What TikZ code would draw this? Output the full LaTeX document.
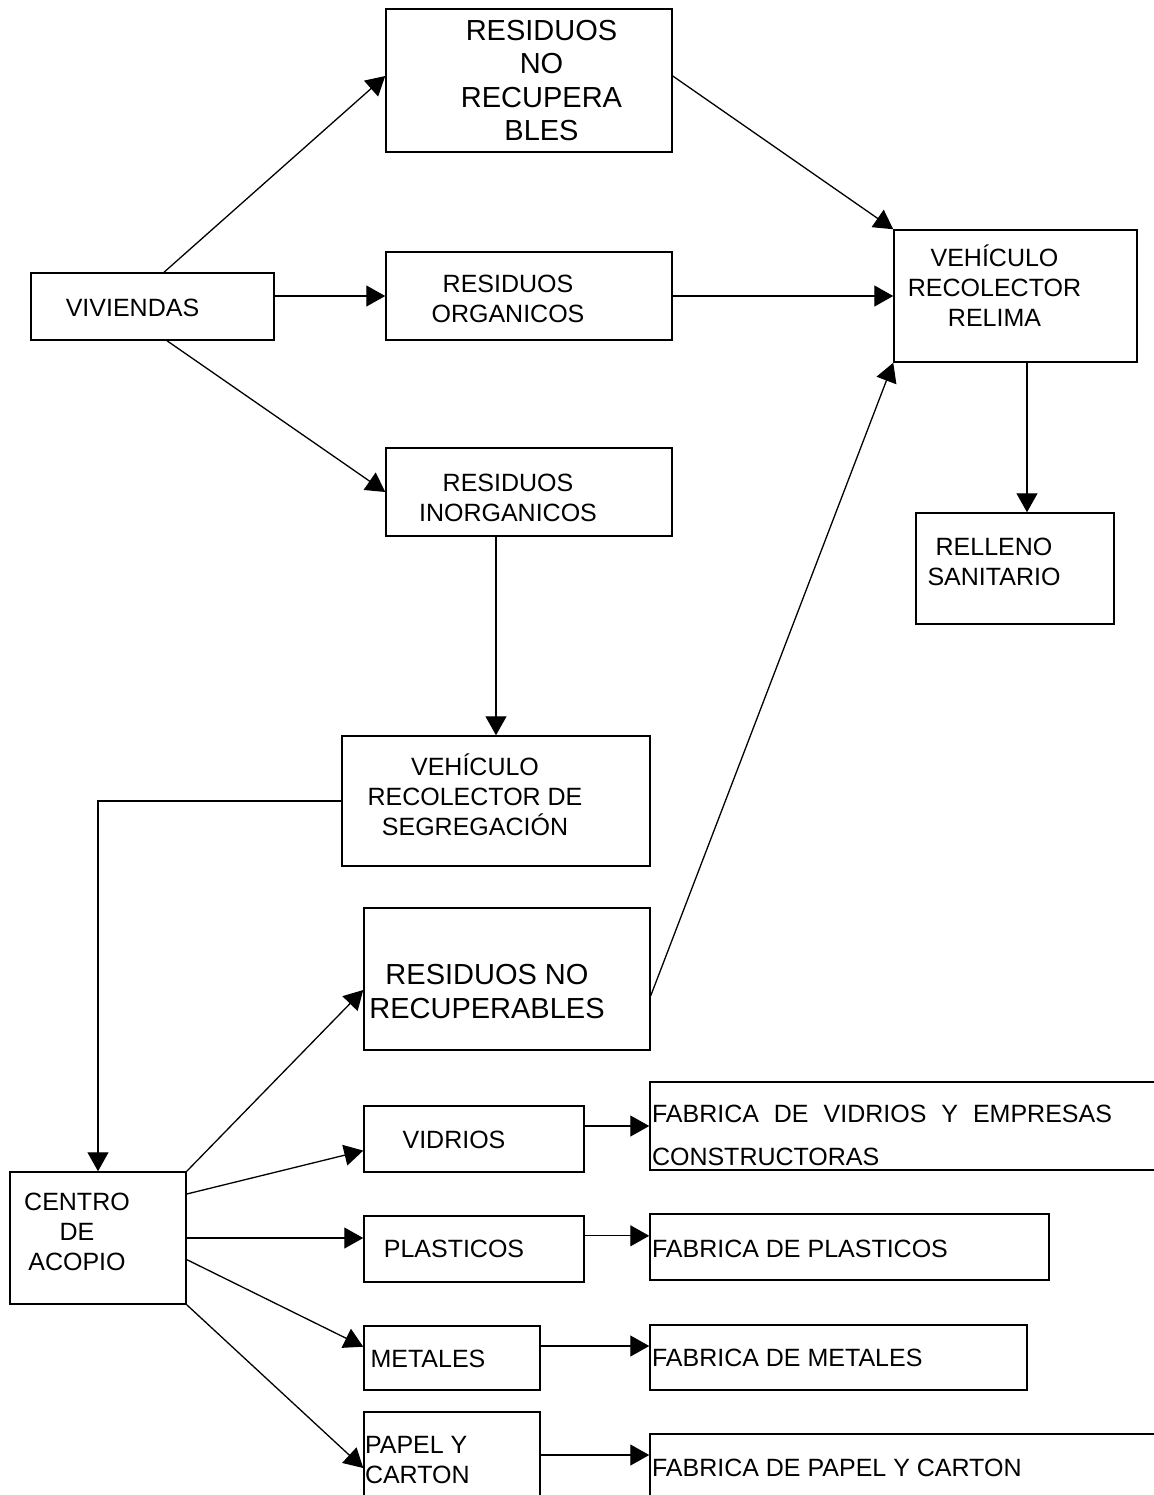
\documentclass[tikz,border=0pt]{standalone}
\usepackage{fontspec}
\setmainfont{Liberation Sans}
\usetikzlibrary{arrows.meta}

% text block of a box: [column] {x shift} {y shift, down} {lines}
\newcommand{\boxtext}[4][c]{%
  \raisebox{0pt}[\dimexpr\height+(#3)\relax][\dimexpr\depth-(#3)\relax]{%
    \kern#2\relax\begin{tabular}{@{}#1@{}}#4\end{tabular}\kern\dimexpr0pt-(#2)\relax}}

\begin{document}
\begin{tikzpicture}[
    x=0.5pt, y=-0.5pt,
    box/.style={draw, line width=0.75pt, inner sep=0pt, font=\fontsize{12.5}{15}\selectfont},
    bigbox/.style={box, font=\fontsize{14.5}{16.75}\selectfont},
    dims/.style 2 args={minimum width=#1, minimum height=#2},
    arrow/.style={-{Triangle[length=9.5pt, width=10.5pt]}, line width=0.65pt}
]
    \useasboundingbox (0,0) rectangle (1153,1495);

    \node[bigbox, dims={143pt}{71.5pt}] (rnr1) at (529,80.5) {\boxtext{6.25pt}{1.65pt}{RESIDUOS\\NO\\RECUPERA\\BLES}};
    \node[box, dims={121.5pt}{33.5pt}] (viv) at (152.5,306.5) {\boxtext{-10pt}{1.75pt}{VIVIENDAS}};
    \node[box, dims={143pt}{44pt}] (org) at (529,296) {\boxtext{-10.5pt}{2.75pt}{RESIDUOS\\ORGANICOS}};
    \node[box, dims={143pt}{44pt}] (inorg) at (529,492) {\boxtext{-10.5pt}{4pt}{RESIDUOS\\INORGANICOS}};
    \node[box, dims={121.5pt}{66pt}] (relima) at (1015.5,296) {\boxtext{-10.5pt}{-3pt}{VEHÍCULO\\RECOLECTOR\\RELIMA}};
    \node[box, dims={99pt}{55.5pt}] (relleno) at (1015,568.5) {\boxtext{-10.5pt}{-2.25pt}{RELLENO\\SANITARIO}};
    \node[box, dims={154pt}{65pt}] (segr) at (496,801) {\boxtext{-10.5pt}{-1pt}{VEHÍCULO\\RECOLECTOR DE\\SEGREGACIÓN}};
    \node[bigbox, dims={143pt}{71pt}] (rnr2) at (507,979) {\boxtext{-10pt}{8pt}{RESIDUOS NO\\RECUPERABLES}};
    \node[box, dims={88pt}{66pt}] (centro) at (98,1238) {\boxtext{-10.5pt}{-1.75pt}{CENTRO\\DE\\ACOPIO}};

    \node[box, dims={110pt}{33pt}] (vidrios) at (474,1139) {\boxtext{-10pt}{1.5pt}{VIDRIOS}};
    \node[box, dims={110pt}{33pt}] (plasticos) at (474,1249) {\boxtext{-10pt}{1.3pt}{PLASTICOS}};
    \node[box, dims={88pt}{32pt}] (metales) at (452,1358) {\boxtext[p{81.5pt}]{0pt}{1.7pt}{METALES}};
    \node[box, dims={88pt}{48pt}] (papel) at (452,1460) {\boxtext[p{87pt}]{0pt}{1.4pt}{PAPEL Y\\CARTON}};

    \node[box, dims={257.5pt}{44pt}] (fabvid) at (907.5,1126) {\boxtext[p{255.5pt}]{0pt}{5.75pt}{\makebox[230pt][s]{FABRICA DE VIDRIOS Y EMPRESAS}\\[6.5pt]CONSTRUCTORAS}};
    \node[box, dims={199.5pt}{33pt}] (fabpl) at (849.5,1247) {\boxtext[p{197.5pt}]{0pt}{2pt}{FABRICA DE PLASTICOS}};
    \node[box, dims={188.5pt}{32.5pt}] (fabmet) at (838.5,1357.5) {\boxtext[p{186.5pt}]{0pt}{1.25pt}{FABRICA DE METALES}};
    \node[box, dims={257.5pt}{33pt}] (fabpap) at (907.5,1467) {\boxtext[p{255.5pt}]{0pt}{1.5pt}{FABRICA DE PAPEL Y CARTON}};

    % viviendas
    \draw[arrow] ([xshift=5.75pt]viv.north) -- ([yshift=2.25pt]rnr1.west);
    \draw[arrow] (viv.east |- org.west) -- (org.west);
    \draw[arrow] ([xshift=7.25pt]viv.south) -- (inorg.west);

    % relima
    \draw[arrow] ([yshift=2.25pt]rnr1.east) -- (relima.north west);
    \draw[arrow] (org.east) -- (relima.west);
    \draw[arrow] ([xshift=5.75pt]relima.south) -- ([xshift=6pt]relleno.north);

    % segregacion
    \draw[arrow] (segr.north |- inorg.south) -- (segr.north);
    \draw[arrow] (segr.west) -| (centro.north);
    \draw[arrow] ([yshift=-8.35pt]rnr2.east) -- (relima.south west);

    % centro de acopio
    \draw[arrow] (centro.north east) -- ([yshift=-5.5pt]rnr2.west);
    \draw[arrow] ([yshift=22pt]centro.east) -- ([yshift=-5.8pt]vidrios.west);
    \draw[arrow] (centro.east) -- (centro.east -| plasticos.west);
    \draw[arrow] ([yshift=-10.8pt]centro.east) -- ([yshift=5.65pt]metales.west);
    \draw[arrow] (centro.south east) -- ([yshift=-4pt]papel.west);

    % fabricas
    \draw[arrow] (vidrios.east |- fabvid.west) -- (fabvid.west);
    \draw[arrow] ([yshift=6.6pt]plasticos.east) -- ([yshift=5.6pt]fabpl.west);
    \draw[arrow] ([yshift=6pt]metales.east) -- ([yshift=5.75pt]fabmet.west);
    \draw[arrow] ([yshift=2.5pt]papel.east) -- ([yshift=6pt]fabpap.west);
\end{tikzpicture}
\end{document}
